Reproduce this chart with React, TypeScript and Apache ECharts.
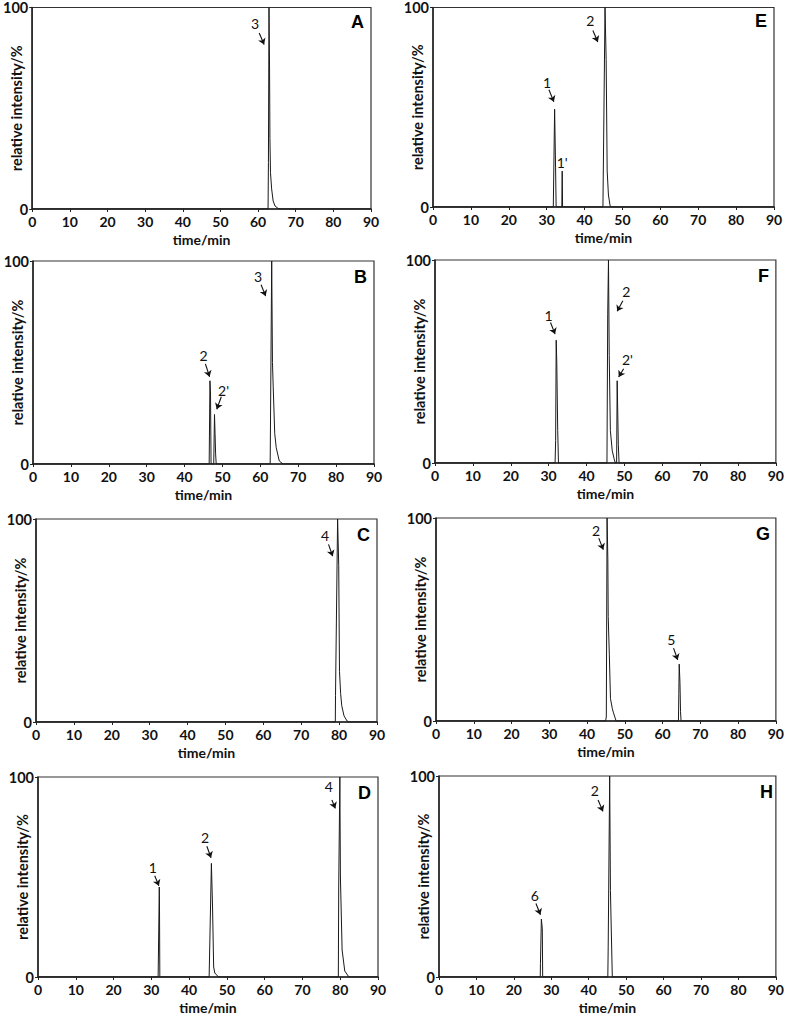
import React, { useEffect, useRef } from "react";
import * as echarts from "echarts";

// ---- data: chromatogram traces [time/min, relative intensity/%] ----
const peaksA: [number, number][] = [
  [0, 0], [62.65, 0], [62.75, 23], [62.9, 100], [63.05, 70], [63.15, 35], [63.3, 18],
  [63.6, 10], [64.0, 4], [64.5, 1.5], [65.3, 0.3], [66, 0], [90, 0],
];
const peaksB: [number, number][] = [
  [0, 0], [46.5, 0], [46.7, 41], [46.85, 35], [47.0, 0], [47.7, 0], [47.9, 24.4],
  [48.05, 15], [48.2, 5], [48.35, 0], [62.6, 0], [63.0, 100], [63.2, 50], [63.4, 38],
  [63.8, 15], [64.2, 8], [65.0, 1.5], [66, 0], [90, 0],
];
const peaksC: [number, number][] = [
  [0, 0], [79.0, 0], [79.05, 13], [79.6, 100], [79.9, 77], [80.1, 25], [80.4, 14],
  [80.7, 8], [81.3, 3], [82.1, 0.5], [82.5, 0], [90, 0],
];
const peaksD: [number, number][] = [
  [0, 0], [31.8, 0], [31.9, 14], [32.1, 45], [32.15, 39], [32.25, 0], [45.3, 0],
  [45.9, 56.8], [46.2, 35], [46.5, 5], [46.8, 2], [47.8, 0], [79.5, 0], [79.6, 45],
  [79.9, 100], [80.05, 50], [80.5, 13.5], [81.2, 3], [82.3, 0], [90, 0],
];
const peaksE: [number, number][] = [
  [0, 0], [31.75, 0], [32.1, 49], [32.35, 20], [32.5, 0], [34.0, 0], [34.1, 18],
  [34.2, 0], [44.85, 0], [45.4, 100], [45.7, 74], [45.97, 18], [46.3, 6], [46.8, 0], [90, 0],
];
const peaksF: [number, number][] = [
  [0, 0], [31.7, 0], [31.85, 11], [32.0, 60.5], [32.15, 50], [32.4, 16], [32.6, 0],
  [45.4, 0], [45.6, 73], [45.8, 100], [46.0, 53], [46.3, 16], [46.8, 6], [47.3, 2],
  [47.6, 0], [47.95, 0], [48.1, 40.5], [48.4, 9], [48.6, 0], [90, 0],
];
const peaksG: [number, number][] = [
  [0, 0], [44.9, 0], [45.1, 2], [45.3, 100], [45.5, 80], [45.6, 51.5], [45.9, 32.6],
  [46.2, 11], [46.7, 6], [47.0, 4], [47.7, 0], [64.2, 0], [64.3, 13.6], [64.4, 28],
  [64.6, 19], [64.75, 4.6], [64.9, 0], [90, 0],
];
const peaksH: [number, number][] = [
  [0, 0], [27.05, 0], [27.1, 6.6], [27.35, 28.8], [27.6, 24], [27.7, 0], [45.1, 0],
  [45.2, 15], [45.6, 100], [45.8, 43], [46.3, 0], [90, 0],
];

// ---- peak labels [text, time, intensity] and arrows [t1, i1, t2, i2] ----
const labelsA: [string, number, number][] = [["3", 59.2, 92.3]];
const arrowsA: number[][] = [[60.3, 87.3, 61.6, 81.6]];
const labelsB: [string, number, number][] = [["3", 59.4, 92.4], ["2", 45.0, 53.4], ["2'", 50.3, 36.4]];
const arrowsB: number[][] = [[60.2, 88.3, 61.4, 82.7], [45.5, 49.3, 46.6, 43.0], [49.7, 33.1, 48.5, 27.0]];
const labelsC: [string, number, number][] = [["4", 76.3, 92.1]];
const arrowsC: number[][] = [[77.2, 87.5, 78.3, 81.7]];
const labelsD: [string, number, number][] = [["1", 30.4, 55.0], ["2", 44.2, 69.9], ["4", 77.0, 95.1]];
const arrowsD: number[][] = [[30.9, 50.6, 32.0, 45.6], [44.7, 65.4, 45.8, 59.6], [77.8, 88.5, 78.7, 84.3]];
const labelsE: [string, number, number][] = [["2", 41.5, 93.4], ["1", 30.1, 62.4], ["1'", 34.1, 22.1]];
const arrowsE: number[][] = [[42.2, 88.5, 43.5, 82.7], [30.6, 58.8, 31.9, 52.7]];
const labelsF: [string, number, number][] = [["1", 30.0, 72.9], ["2", 50.5, 84.5], ["2'", 50.8, 51.2]];
const arrowsF: number[][] = [[30.5, 69.2, 31.7, 63.5], [49.6, 79.9, 48.1, 74.7], [49.8, 46.4, 48.5, 42.4]];
const labelsG: [string, number, number][] = [["2", 42.4, 93.8], ["5", 62.3, 40.0]];
const arrowsG: number[][] = [[43.1, 90.1, 44.3, 84.4], [62.9, 35.9, 64.0, 30.1]];
const labelsH: [string, number, number][] = [["6", 25.6, 40.4], ["2", 41.6, 92.6]];
const arrowsH: number[][] = [[25.9, 36.6, 27.1, 31.0], [42.5, 88.1, 43.8, 82.4]];

const panelNames = ["A", "B", "C", "D", "E", "F", "G", "H"];
const xMin = 0, xMax = 90, xStep = 10;
const yMin = 0, yMax = 100, yStep = 100;
const xName = "time/min";
const yName = "relative intensity/%";

// layout of each plot area: [left, top, right, bottom] in page pixels
const layout: number[][] = [
  [30, 6, 371, 209],
  [33, 261, 374, 464],
  [36, 519, 377, 722],
  [38, 777, 378, 979],
  [433, 5, 774, 207],
  [435, 260, 776, 463],
  [436, 518, 777, 721],
  [439, 776, 780, 979],
];

const W = 787, H = 1016;
const FONT = "Lato";

export default function App() {
  const ref = useRef<HTMLDivElement>(null);
  useEffect(() => {
    if (!ref.current) return;
    const chart = echarts.init(ref.current, null, { renderer: "svg" });
    const traces = [peaksA, peaksB, peaksC, peaksD, peaksE, peaksF, peaksG, peaksH];
    const labels = [labelsA, labelsB, labelsC, labelsD, labelsE, labelsF, labelsG, labelsH];
    const arrows = [arrowsA, arrowsB, arrowsC, arrowsD, arrowsE, arrowsF, arrowsG, arrowsH];

    const grid = layout.map(([l, t, r, b]) => ({
      left: l, top: t, width: r - l, height: b - t,
      show: true, borderColor: "#333", borderWidth: 1.2, backgroundColor: "transparent",
    }));
    const xAxis = layout.map((_, i) => ({
      type: "value", gridIndex: i, min: xMin, max: xMax, interval: xStep,
      name: xName, nameLocation: "middle", nameGap: 23, nameMoveOverlap: false,
      nameTextStyle: { fontFamily: FONT, fontWeight: "bold", fontSize: 14, color: "#111", lineHeight: 15 },
      axisLine: { show: true, onZero: false, lineStyle: { color: "#222", width: 1.5 } },
      axisTick: { show: true, inside: false, length: 3, lineStyle: { color: "#222", width: 1 } },
      axisLabel: { margin: 5, fontFamily: FONT, fontWeight: "bold", fontSize: 14, color: "#111", lineHeight: 15 },
      splitLine: { show: false },
    }));
    const yAxis = layout.map((_, i) => ({
      type: "value", gridIndex: i, min: yMin, max: yMax, interval: yStep,
      name: yName, nameLocation: "middle", nameGap: 8, nameMoveOverlap: false,
      nameTextStyle: { fontFamily: FONT, fontWeight: "bold", fontSize: 14.5, color: "#111" },
      axisLine: { show: true, onZero: false, lineStyle: { color: "#222", width: 1.5 } },
      axisTick: { show: true, inside: false, length: 3, lineStyle: { color: "#222", width: 1 } },
      axisLabel: { margin: 4, fontFamily: FONT, fontWeight: "bold", fontSize: 14.5, color: "#111" },
      splitLine: { show: false },
    }));
    const title = layout.map(([l, t, r], i) => ({
      text: panelNames[i], right: W - r + 7, top: t + 7, padding: 0,
      textStyle: { fontFamily: "Liberation Sans", fontWeight: "bold", fontSize: 18, color: "#000" },
    }));
    const series = traces.map((data, i) => ({
      type: "line", xAxisIndex: i, yAxisIndex: i, data,
      symbol: "none", showSymbol: false, silent: true,
      lineStyle: { color: "#1a1a1a", width: 1 },
      markPoint: {
        silent: true, symbol: "circle", symbolSize: 0,
        itemStyle: { color: "#000", opacity: 0 },
        label: {
          show: true, position: "inside", formatter: "{b}",
          fontFamily: FONT, fontSize: 14, color: "#111",
          textBorderWidth: 0, opacity: 1,
        },
        data: labels[i].map(([txt, x, y]) => ({ name: txt, coord: [x, y] })),
      },
      markLine: {
        silent: true, symbol: ["none", "arrow"], symbolSize: 6,
        label: { show: false },
        lineStyle: { color: "#111", width: 1.1, type: "solid" },
        data: arrows[i].map(([x1, y1, x2, y2]) => [{ coord: [x1, y1] }, { coord: [x2, y2] }]),
      },
    }));

    chart.setOption({
      animation: false,
      backgroundColor: "#fff",
      title, grid, xAxis, yAxis, series,
    } as any);
    return () => chart.dispose();
  }, []);
  return (
    <div
      ref={ref}
      style={{ position: "absolute", left: 0, top: 0, width: W, height: H, background: "#fff" }}
    />
  );
}
